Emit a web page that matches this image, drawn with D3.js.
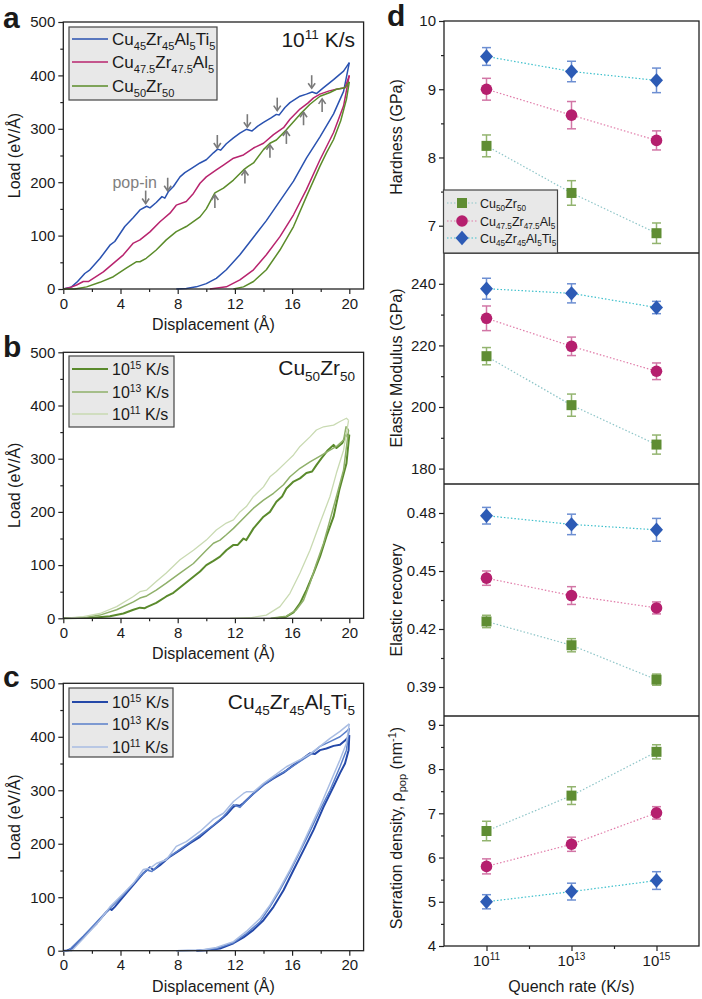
<!DOCTYPE html>
<html><head><meta charset="utf-8">
<script src="https://cdn.jsdelivr.net/npm/d3@7"></script>
<style>
body{margin:0;background:#fff}
svg{display:block}
text{font-family:Arial,"Liberation Sans",Helvetica,sans-serif;fill:#1a1a1a}
</style>
</head><body>
<svg id="c" width="702" height="999"></svg>
<script>
// ---------------- DATA ----------------
const dispTicks = [0, 4, 8, 12, 16, 20];
const dispMinor = [2, 6, 10, 14, 18];
const loadTicks = [0, 100, 200, 300, 400, 500];
const loadMinor = [50, 150, 250, 350, 450];

// Panel a: 10^11 K/s, three alloys
const aBlueLoad = [[0,0],[0.58,4],[1.0,14],[1.5,29],[1.86,36],[2.56,57],[3.26,82],[3.6,89],[4.3,117],[4.9,134],[5.36,148],[5.83,155],[6.06,152],[6.5,162],[6.9,173],[7.1,170],[7.34,182],[7.7,192],[8.16,210],[8.5,218],[8.97,226],[9.56,236],[10.0,242],[10.5,255],[10.8,262],[11.0,260],[11.4,272],[11.9,283],[12.35,292],[12.8,299],[13.2,296],[13.6,305],[14.0,312],[14.5,320],[14.9,327],[15.1,326],[15.5,340],[15.85,349],[16.55,361],[17.0,365],[17.4,369],[17.7,366],[18.2,377],[18.9,392],[19.6,408],[20,424]];
const aBlueUnload = [[20,424],[19.6,370],[18.9,328],[17.95,285],[17.0,245],[16.1,202],[15.15,165],[14.2,128],[13.3,97],[12.35,64],[11.4,36],[10.7,20],[10.0,10],[9.3,4],[8.6,1],[7.9,0]];
const aMagLoad = [[0,0],[0.5,3],[0.93,7.5],[1.4,14],[1.75,14],[2.1,20],[2.8,32],[3.5,48],[4.2,64],[4.9,86],[5.36,92],[6.06,107],[6.76,126],[7.46,142],[7.9,157],[8.6,164],[9.1,179],[9.56,198],[10.0,210],[10.7,223],[11.2,232],[11.9,245],[12.6,251],[13.3,264],[14.0,273],[14.7,289],[15.4,302],[15.85,318],[16.55,337],[17.1,348],[17.5,358],[17.95,365],[18.6,371],[19.1,374],[19.7,377],[20,400]];
const aMagUnload = [[20,400],[19.6,343],[18.9,293],[17.95,242],[17.0,186],[16.1,139],[15.15,98],[14.2,64],[13.3,36],[12.35,17],[11.4,4],[10.25,0]];
const aGreenLoad = [[0,0],[0.8,0],[1.63,4],[2.56,12.5],[3.5,23],[4.4,39],[5.1,51],[5.36,51],[5.8,57.5],[6.5,73],[7.2,92],[7.9,107.5],[8.6,117],[9.56,135],[10.0,150],[10.3,165],[10.6,180],[11.2,189],[11.9,204],[12.6,223],[12.9,229],[13.3,236],[14.0,261],[14.45,273],[14.9,279],[15.6,298],[16.55,327],[17.25,346],[17.95,361],[18.65,368],[19.1,374],[19.7,377],[20,388]];
const aGreenUnload = [[20,388],[19.8,355],[19.4,315],[18.9,280],[18.4,255],[17.95,230],[17.0,173],[16.1,117],[15.15,73],[14.2,36],[13.3,14],[12.6,4],[11.9,0]];
// pop-in arrows: [x, tipLoad]
const popDown = [[5.76,160],[7.3,184],[10.77,264],[12.87,303],[14.96,334],[17.37,376]];
const popUp = [[10.6,176],[12.7,222],[14.45,270],[15.6,296],[16.8,331],[18.1,356]];

// Panel b: Cu50Zr50 at three quench rates
const b15Load = [[0,0],[2.1,1],[3.26,4],[4.2,9],[4.9,16],[5.36,20],[5.7,19],[5.83,21],[6.5,29],[7.2,41],[7.7,48],[8.4,63],[9.1,78],[9.56,88],[10.0,100],[10.5,108],[10.96,116],[11.4,128],[11.9,138],[12.2,138],[12.6,150],[12.8,147],[13.3,169],[14.0,191],[14.45,200],[14.9,219],[15.3,229],[15.6,244],[16.1,257],[16.55,263],[17.0,273],[17.4,276],[17.7,288],[18.06,301],[18.5,316],[18.9,326],[19.1,320],[19.5,329],[19.8,345],[20,345]];
const b15Unload = [[20,345],[19.8,291],[19.3,241],[18.9,191],[18.4,154],[17.95,116],[17.5,85],[17.0,53],[16.55,28],[16.1,11],[15.6,3],[14.9,0]];
const b13Load = [[0,0],[1.63,2],[2.56,6],[3.73,16],[4.9,31],[5.36,38],[5.83,42],[6.5,53],[7.2,66],[8.16,85],[9.1,103],[10.0,128],[10.5,141],[10.96,147],[11.4,157],[11.9,169],[12.6,188],[13.3,207],[14.0,222],[14.7,235],[15.4,251],[15.85,266],[16.55,282],[17.25,294],[17.95,305],[18.65,316],[19.1,323],[19.6,335],[19.77,360],[19.95,354]];
const b13Unload = [[19.95,354],[19.6,279],[19.1,229],[18.65,185],[18.2,141],[17.7,103],[17.25,66],[16.8,34],[16.3,16],[15.6,4],[14.5,0]];
const b11Load = [[0,0],[1.4,3],[2.56,9],[3.73,22],[4.9,41],[5.36,50],[5.83,53],[6.5,69],[7.2,85],[8.16,110],[9.1,128],[10.0,147],[10.7,166],[11.4,179],[11.9,185],[12.35,200],[12.8,210],[13.3,229],[14.0,247],[14.45,266],[14.9,276],[15.6,294],[16.1,307],[16.55,323],[17.25,341],[17.7,354],[18.2,360],[18.9,363],[19.35,370],[19.8,376],[19.95,372]];
const b11Unload = [[19.95,372],[19.6,316],[19.1,273],[18.65,229],[17.95,179],[17.25,128],[16.55,85],[15.85,47],[15.15,22],[14.2,6],[13.05,1],[11.65,0]];

// Panel c: Cu45Zr45Al5Ti5 at three quench rates
const c15Load = [[0,0],[0.23,0],[0.58,4],[1.4,26],[2.33,51],[3.03,73],[3.26,79],[3.38,76],[3.6,82],[4.2,101],[4.9,123],[5.6,145],[6.06,156],[6.3,151],[6.76,160],[7.46,176],[8.16,188],[8.86,201],[9.56,213],[10.26,229],[10.96,244],[11.4,254],[11.9,269],[12.1,272],[12.35,271],[12.6,276],[13.3,294],[14.0,310],[14.7,322],[15.4,333],[16.1,347],[16.8,360],[17.25,369],[17.6,368],[17.95,375],[18.4,378],[18.9,383],[19.35,385],[19.7,393],[19.93,399],[20,403]];
const c15Unload = [[20,403],[19.95,375],[19.7,350],[19.35,332],[18.9,307],[18.2,269],[17.5,226],[16.8,188],[16.1,151],[15.4,113],[14.7,82],[14.0,57],[13.3,39],[12.6,25],[11.9,14],[10.96,4],[10.0,1],[9.3,0]];
const c13Load = [[0,0],[0.35,0],[1.4,27],[2.56,60],[3.26,79],[4.2,104],[5.13,132],[5.83,151],[6.2,148],[6.76,163],[7.7,181],[8.6,198],[9.56,216],[10.5,235],[11.2,251],[11.9,273],[12.35,268],[13.05,288],[14.0,310],[14.9,327],[15.6,337],[16.55,354],[17.25,366],[17.95,382],[18.65,391],[19.35,400],[19.8,410],[20,416]];
const c13Unload = [[20,416],[19.8,375],[19.35,344],[18.65,300],[17.95,263],[17.25,223],[16.55,185],[15.85,148],[15.15,113],[14.45,82],[13.75,54],[12.8,32],[11.9,15],[10.7,4],[9.56,1],[7.9,0]];
const c11Load = [[0,0],[0.58,0],[1.4,23],[2.56,57],[3.26,82],[4.2,107],[4.9,126],[5.6,152],[6.06,154],[6.5,163],[7.2,170],[7.9,195],[8.6,204],[9.56,223],[10.5,246],[11.2,257],[11.9,279],[12.6,294],[12.8,297],[13.3,297],[14.0,313],[14.9,330],[15.6,344],[16.55,357],[17.25,368],[17.95,382],[18.65,397],[19.35,410],[19.8,420],[20,424]];
const c11Unload = [[20,424],[19.8,388],[19.35,357],[18.65,313],[17.95,269],[17.25,229],[16.55,188],[15.85,151],[15.15,117],[14.45,85],[13.75,60],[12.8,36],[11.9,17],[10.7,6],[9.56,1],[7.9,0]];

// Panel d
const rates = [1e11, 1e13, 1e15];
const rateTicks = [1e11, 1e13, 1e15];
const rateMinor = [1e12, 1e14];
const rateLabels = ["10^{11}", "10^{13}", "10^{15}"];
const alloyNames = ["Cu_{50}Zr_{50}", "Cu_{47.5}Zr_{47.5}Al_{5}", "Cu_{45}Zr_{45}Al_{5}Ti_{5}"];

const hardCu50 = [8.17, 7.48, 6.89],  hardCu50Err = [0.16, 0.18, 0.15];
const hardCu47 = [9.00, 8.62, 8.25],  hardCu47Err = [0.16, 0.20, 0.14];
const hardCu45 = [9.48, 9.26, 9.13],  hardCu45Err = [0.13, 0.15, 0.18];
const hardTicks = [7, 8, 9, 10], hardMinor = [7.5, 8.5, 9.5];

const modCu50 = [216.5, 200.6, 187.8], modCu50Err = [2.8, 3.6, 3.1];
const modCu47 = [228.8, 219.7, 211.6], modCu47Err = [4.0, 3.0, 2.7];
const modCu45 = [238.4, 236.9, 232.3], modCu45Err = [3.4, 3.1, 2.0];
const modTicks = [180, 200, 220, 240], modMinor = [190, 210, 230];

const recCu50 = [0.4239, 0.4116, 0.3938], recCu50Err = [0.0032, 0.0034, 0.0029];
const recCu47 = [0.4463, 0.4373, 0.4309], recCu47Err = [0.0037, 0.0046, 0.0031];
const recCu45 = [0.4786, 0.4741, 0.4713], recCu45Err = [0.0043, 0.0053, 0.0059];
const recTicks = [0.39, 0.42, 0.45, 0.48], recMinor = [0.405, 0.435, 0.465];

const serCu50 = [6.60, 7.40, 8.39], serCu50Err = [0.22, 0.20, 0.16];
const serCu47 = [5.80, 6.30, 7.01], serCu47Err = [0.17, 0.16, 0.14];
const serCu45 = [5.00, 5.23, 5.48], serCu45Err = [0.16, 0.19, 0.20];
const serTicks = [4, 5, 6, 7, 8, 9], serMinor = [4.5, 5.5, 6.5, 7.5, 8.5];

// ---------------- DRAW ----------------
const svg = d3.select('#c');
const AX = '#222';

function rich(sel, str, size, small) {
  const parts = str.split(/(_\{[^}]*\}|\^\{[^}]*\})/).filter(s => s.length);
  let shift = 0;
  parts.forEach(p => {
    let t, target, fs;
    if (p.startsWith('_{')) { t = p.slice(2, -1); target = size * 0.28; fs = small; }
    else if (p.startsWith('^{')) { t = p.slice(2, -1); target = -size * 0.38; fs = small; }
    else { t = p; target = 0; fs = size; }
    sel.append('tspan').attr('dy', (target - shift).toFixed(2)).attr('font-size', fs).text(t);
    shift = target;
  });
  return sel;
}

const X = d3.scaleLinear().domain([0, 21]).range([63.3, 363.6]);
const line = (Y) => d3.line().x(d => X(d[0])).y(d => Y(d[1]));

function styleAxis(g) {
  g.selectAll('.domain').remove();
  g.selectAll('line').attr('stroke', AX).attr('stroke-width', 1.2);
  g.selectAll('text').attr('font-size', 15).attr('fill', '#1a1a1a')
   .attr('font-family', 'Arial, "Liberation Sans", sans-serif');
}

function loadPanel(opt) {
  const Y = d3.scaleLinear().domain([0, 500]).range([opt.yBot, opt.yTop]);
  const g = svg.append('g');
  const [x0, x1] = X.range();
  g.append('g').attr('transform', `translate(${x0},0)`)
    .call(d3.axisLeft(Y).tickValues(loadTicks).tickSize(5).tickPadding(3).tickSizeOuter(0)).call(styleAxis);
  g.append('g').attr('transform', `translate(${x0},0)`)
    .call(d3.axisLeft(Y).tickValues(loadMinor).tickSize(3).tickFormat('').tickSizeOuter(0)).call(styleAxis);
  g.append('g').attr('transform', `translate(0,${opt.yBot})`)
    .call(d3.axisBottom(X).tickValues(dispTicks).tickSize(5).tickPadding(4).tickSizeOuter(0)).call(styleAxis);
  g.append('g').attr('transform', `translate(0,${opt.yBot})`)
    .call(d3.axisBottom(X).tickValues(dispMinor).tickSize(3).tickFormat('').tickSizeOuter(0)).call(styleAxis);
  const L = line(Y);
  opt.series.forEach(s => {
    [s.load, s.unload].forEach(arr => {
      g.append('path').attr('d', L(arr)).attr('fill', 'none').attr('stroke', s.color)
        .attr('stroke-width', s.w).attr('stroke-linejoin', 'round');
    });
  });
  g.append('rect').attr('x', x0).attr('y', opt.yTop).attr('width', x1 - x0).attr('height', opt.yBot - opt.yTop)
    .attr('fill', 'none').attr('stroke', AX).attr('stroke-width', 1.3);
  const lb = opt.legend;
  g.append('rect').attr('x', lb.x).attr('y', lb.y).attr('width', lb.w).attr('height', lb.h)
    .attr('fill', '#e8e8e8').attr('stroke', '#444').attr('stroke-width', 1.2);
  opt.series.forEach((s, i) => {
    const yy = lb.rows[i];
    g.append('line').attr('x1', 72).attr('x2', 108).attr('y1', yy).attr('y2', yy)
      .attr('stroke', s.color).attr('stroke-width', s.w);
    rich(g.append('text').attr('x', 112).attr('y', yy + 6).attr('font-size', lb.fs), s.name, lb.fs, lb.fs * 0.65);
  });
  rich(g.append('text').attr('x', 355).attr('y', opt.titleY).attr('text-anchor', 'end').attr('font-size', 21), opt.title, 21, 13.5);
  g.append('text').attr('transform', `translate(20,${(opt.yTop + opt.yBot) / 2}) rotate(-90)`)
    .attr('text-anchor', 'middle').attr('font-size', 16).text('Load (eV/Å)');
  g.append('text').attr('x', (x0 + x1) / 2).attr('y', opt.yBot + 41).attr('text-anchor', 'middle')
    .attr('font-size', 16).text('Displacement (Å)');
  g.append('text').attr('x', 3).attr('y', opt.letterY).attr('font-size', 30).attr('font-weight', 'bold')
    .attr('fill', '#000').text(opt.letter);
  return {g, Y};
}

const pa = loadPanel({
  yTop: 22, yBot: 289, letter: 'a', letterY: 28, title: '10^{11} K/s', titleY: 47,
  legend: {x: 69, y: 27, w: 148, h: 73, rows: [39, 62, 86], fs: 17},
  series: [
    {name: 'Cu_{45}Zr_{45}Al_{5}Ti_{5}', color: '#2a52b0', w: 1.5, load: aBlueLoad, unload: aBlueUnload},
    {name: 'Cu_{47.5}Zr_{47.5}Al_{5}', color: '#b8246e', w: 1.5, load: aMagLoad, unload: aMagUnload},
    {name: 'Cu_{50}Zr_{50}', color: '#5b8c2a', w: 1.5, load: aGreenLoad, unload: aGreenUnload}
  ]
});
(function () {
  const g = pa.g, Y = pa.Y, col = '#7a7a7a';
  function arrow(x, tip, dir) {
    const px = X(x), ty = Y(tip), tail = ty + (dir < 0 ? -13 : 13);
    g.append('line').attr('x1', px).attr('x2', px).attr('y1', tail).attr('y2', ty)
      .attr('stroke', col).attr('stroke-width', 1.6);
    const hy = ty + (dir < 0 ? -5 : 5);
    g.append('path').attr('d', `M${px - 3.5},${hy} L${px},${ty} L${px + 3.5},${hy}`)
      .attr('fill', 'none').attr('stroke', col).attr('stroke-width', 1.6);
  }
  popDown.forEach(d => arrow(d[0], d[1], -1));
  popUp.forEach(d => arrow(d[0], d[1], 1));
  g.append('text').attr('x', X(6.55)).attr('y', Y(190)).attr('text-anchor', 'end')
    .attr('font-size', 16).style('fill', '#808080').text('pop-in');
})();

loadPanel({
  yTop: 352.3, yBot: 618.3, letter: 'b', letterY: 357, title: 'Cu_{50}Zr_{50}', titleY: 375,
  legend: {x: 69, y: 356, w: 105, h: 71, rows: [369, 392, 414], fs: 16},
  series: [
    {name: '10^{15} K/s', color: '#5a8a2c', w: 2, load: b15Load, unload: b15Unload},
    {name: '10^{13} K/s', color: '#8fb06a', w: 1.5, load: b13Load, unload: b13Unload},
    {name: '10^{11} K/s', color: '#c9dab2', w: 1.3, load: b11Load, unload: b11Unload}
  ]
});

loadPanel({
  yTop: 683.3, yBot: 950.7, letter: 'c', letterY: 687, title: 'Cu_{45}Zr_{45}Al_{5}Ti_{5}', titleY: 709,
  legend: {x: 69, y: 688, w: 104, h: 69, rows: [702, 724, 747], fs: 16},
  series: [
    {name: '10^{15} K/s', color: '#2448a8', w: 2, load: c15Load, unload: c15Unload},
    {name: '10^{13} K/s', color: '#5a7fca', w: 1.5, load: c13Load, unload: c13Unload},
    {name: '10^{11} K/s', color: '#a9bde3', w: 1.5, load: c11Load, unload: c11Unload}
  ]
});

// Panel d
const XD = d3.scaleLog().domain([1e10, 1e16]).range([444, 699]);
const alloyStyle = [
  {fill: '#5f8d33', err: '#93b46f', dot: '#8ec5c8', shape: 'square'},
  {fill: '#b51f6e', err: '#d276a6', dot: '#e07aa8', shape: 'circle'},
  {fill: '#2d5bb5', err: '#6d8fd2', dot: '#3fc0cc', shape: 'diamond'}
];
function marker(g, shape, x, y, fill) {
  if (shape === 'square') g.append('rect').attr('x', x - 5).attr('y', y - 5).attr('width', 10).attr('height', 10).attr('fill', fill);
  else if (shape === 'circle') g.append('circle').attr('cx', x).attr('cy', y).attr('r', 5.8).attr('fill', fill);
  else g.append('path').attr('d', `M${x},${y - 7.2} L${x + 6.5},${y} L${x},${y + 7.2} L${x - 6.5},${y}Z`).attr('fill', fill);
}
const subPanels = [
  {title: 'Hardness (GPa)', domain: [6.6, 10], range: [253, 21], ticks: hardTicks, minor: hardMinor, fmt: d3.format('d'),
   vals: [hardCu50, hardCu47, hardCu45], errs: [hardCu50Err, hardCu47Err, hardCu45Err], tc: 137},
  {title: 'Elastic Modulus (GPa)', domain: [175, 250], range: [484, 253], ticks: modTicks, minor: modMinor, fmt: d3.format('d'),
   vals: [modCu50, modCu47, modCu45], errs: [modCu50Err, modCu47Err, modCu45Err], tc: 368},
  {title: 'Elastic recovery', domain: [0.375, 0.495], range: [716, 484], ticks: recTicks, minor: recMinor, fmt: d3.format('.2f'),
   vals: [recCu50, recCu47, recCu45], errs: [recCu50Err, recCu47Err, recCu45Err], tc: 600},
  {title: 'Serration density, ρ_{pop} (nm^{-1})', domain: [4, 9.2], range: [946, 716], ticks: serTicks, minor: serMinor, fmt: d3.format('d'),
   vals: [serCu50, serCu47, serCu45], errs: [serCu50Err, serCu47Err, serCu45Err], tc: 828}
];
const gd = svg.append('g');
subPanels.forEach(sp => {
  const Y = d3.scaleLinear().domain(sp.domain).range(sp.range);
  const g = gd.append('g');
  g.append('g').attr('transform', 'translate(444,0)')
    .call(d3.axisLeft(Y).tickValues(sp.ticks).tickFormat(sp.fmt).tickSize(5).tickPadding(3).tickSizeOuter(0)).call(styleAxis);
  g.append('g').attr('transform', 'translate(444,0)')
    .call(d3.axisLeft(Y).tickValues(sp.minor).tickFormat('').tickSize(3).tickSizeOuter(0)).call(styleAxis);
  sp.vals.forEach((v, i) => {
    const pts = rates.map((r, j) => [r, v[j]]);
    g.append('path').attr('d', d3.line().x(d => XD(d[0])).y(d => Y(d[1]))(pts))
      .attr('fill', 'none').attr('stroke', alloyStyle[i].dot).attr('stroke-width', 1.2).attr('stroke-dasharray', '1.5,2');
  });
  sp.vals.forEach((v, i) => {
    const st = alloyStyle[i];
    rates.forEach((r, j) => {
      const x = XD(r), ylo = Y(v[j] - sp.errs[i][j]), yhi = Y(v[j] + sp.errs[i][j]);
      g.append('line').attr('x1', x).attr('x2', x).attr('y1', ylo).attr('y2', yhi).attr('stroke', st.err).attr('stroke-width', 1.5);
      [ylo, yhi].forEach(yy => g.append('line').attr('x1', x - 4.5).attr('x2', x + 4.5).attr('y1', yy).attr('y2', yy)
        .attr('stroke', st.err).attr('stroke-width', 1.5));
    });
    rates.forEach((r, j) => marker(g, st.shape, XD(r), Y(v[j]), st.fill));
  });
  rich(g.append('text').attr('transform', `translate(402,${sp.tc}) rotate(-90)`).attr('text-anchor', 'middle')
    .attr('font-size', 16), sp.title, 16, 11);
});
gd.append('rect').attr('x', 444).attr('y', 21).attr('width', 255).attr('height', 925)
  .attr('fill', 'none').attr('stroke', AX).attr('stroke-width', 1.3);
[253, 484, 716].forEach(y => gd.append('line').attr('x1', 444).attr('x2', 699).attr('y1', y).attr('y2', y)
  .attr('stroke', AX).attr('stroke-width', 1.3));
gd.append('g').attr('transform', 'translate(0,946)')
  .call(d3.axisBottom(XD).tickValues(rateTicks).tickFormat('').tickSize(5).tickSizeOuter(0)).call(styleAxis);
gd.append('g').attr('transform', 'translate(0,946)')
  .call(d3.axisBottom(XD).tickValues(rateMinor).tickFormat('').tickSize(3).tickSizeOuter(0)).call(styleAxis);
rateTicks.forEach((t, i) => {
  rich(gd.append('text').attr('x', XD(t)).attr('y', 966).attr('text-anchor', 'middle').attr('font-size', 15),
    rateLabels[i], 15, 10);
});
gd.append('text').attr('x', 571.5).attr('y', 992).attr('text-anchor', 'middle').attr('font-size', 16).text('Quench rate (K/s)');
gd.append('text').attr('x', 387).attr('y', 26).attr('font-size', 30).attr('font-weight', 'bold').attr('fill', '#000').text('d');
gd.append('rect').attr('x', 443.5).attr('y', 190).attr('width', 114).attr('height', 63)
  .attr('fill', '#e8e8e8').attr('stroke', '#444').attr('stroke-width', 1.2);
const legRows = [203, 221, 238];
alloyStyle.forEach((st, i) => {
  const yy = legRows[i];
  gd.append('line').attr('x1', 447).attr('x2', 477).attr('y1', yy).attr('y2', yy)
    .attr('stroke', st.dot).attr('stroke-width', 1.2).attr('stroke-dasharray', '1.5,2');
  marker(gd, st.shape, 462, yy, st.fill);
  rich(gd.append('text').attr('x', 480).attr('y', yy + 4.5).attr('font-size', 12.5), alloyNames[i], 12.5, 8.2);
});
</script>
</body></html>
